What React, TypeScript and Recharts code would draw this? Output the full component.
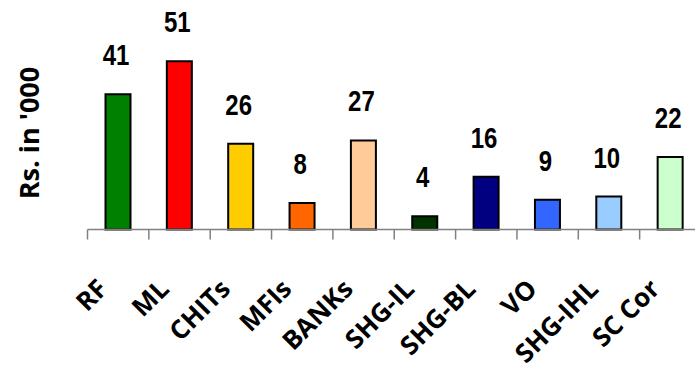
import { BarChart, Bar, XAxis, YAxis, Cell, LabelList, Label } from 'recharts'

const CATEGORIES = ['RF', 'ML', 'CHITs', 'MFIs', 'BANKs', 'SHG-IL', 'SHG-BL', 'VO', 'SHG-IHL', 'SC Cor']
const VALUES = [41, 51, 26, 8, 27, 4, 16, 9, 10, 22]
const COLORS = ['#008000', '#ff0000', '#ffcc00', '#ff6600', '#ffcc99', '#003300', '#000080', '#3366ff', '#99ccff', '#ccffcc']

const CHART_W = 701
const CHART_H = 367
const LEFT = 87.5
const BAND = (CHART_W - LEFT) / CATEGORIES.length

const data = CATEGORIES.map((name, i) => ({ name, value: VALUES[i], color: COLORS[i] }))

function CategoryTick(props: any): JSX.Element {
  const { x, y, payload, index } = props
  const last = index === CATEGORIES.length - 1
  const tx = x - 9
  const ty = y + 61
  return (
    <g>
      <line x1={x - BAND / 2} y1={y} x2={x - BAND / 2} y2={y + 10} stroke="#808080" strokeWidth={1.5} />
      {last && <line x1={x + BAND / 2} y1={y} x2={x + BAND / 2} y2={y + 10} stroke="#808080" strokeWidth={1.5} />}
      <text
        x={tx}
        y={ty}
        transform={`rotate(-45, ${tx}, ${ty})`}
        textAnchor="end"
        fontFamily="'Open Sans', sans-serif"
        fontWeight="bold"
        fontSize={26}
        fill="#000"
      >
        {payload.value}
      </text>
    </g>
  )
}

// narrow bold value labels above the bars
function ValueLabel(props: any): JSX.Element {
  const { x, y, width, value } = props
  const cx = x + width / 2 - 2
  const by = y - 29
  return (
    <text
      transform={`translate(${cx}, ${by}) scale(0.8, 1)`}
      textAnchor="middle"
      fontFamily="'Liberation Sans', Arial, sans-serif"
      fontWeight="bold"
      fontSize={30}
      fill="#000"
    >
      {value}
    </text>
  )
}

function App(): JSX.Element {
  return (
    <div style={{ position: 'absolute', left: 0, top: 0, width: 695, height: 367, overflow: 'hidden', background: '#fff' }}>
      <BarChart width={CHART_W} height={CHART_H} data={data} margin={{ top: 31.5, right: 0, left: 0, bottom: 0 }}>
        <XAxis
          dataKey="name"
          height={137.5}
          interval={0}
          tickLine={false}
          tickSize={0}
          tickMargin={0}
          axisLine={{ stroke: '#808080', strokeWidth: 1.5 }}
          tick={<CategoryTick />}
        />
        <YAxis width={LEFT} domain={[0, 60]} axisLine={false} tickLine={false} tick={false}>
          <Label
            content={() => (
              <text
                x={39}
                y={133}
                transform="rotate(-90, 39, 133)"
                textAnchor="middle"
                fontFamily="'Open Sans', sans-serif"
                fontWeight="bold"
                fontSize={27}
                fill="#000"
              >
                Rs. in '000
              </text>
            )}
          />
        </YAxis>
        <Bar dataKey="value" barSize={25} stroke="#000" strokeWidth={2} isAnimationActive={false}>
          {data.map((d) => (
            <Cell key={d.name} fill={d.color} />
          ))}
          <LabelList dataKey="value" content={<ValueLabel />} />
        </Bar>
      </BarChart>
    </div>
  )
}

export default App
